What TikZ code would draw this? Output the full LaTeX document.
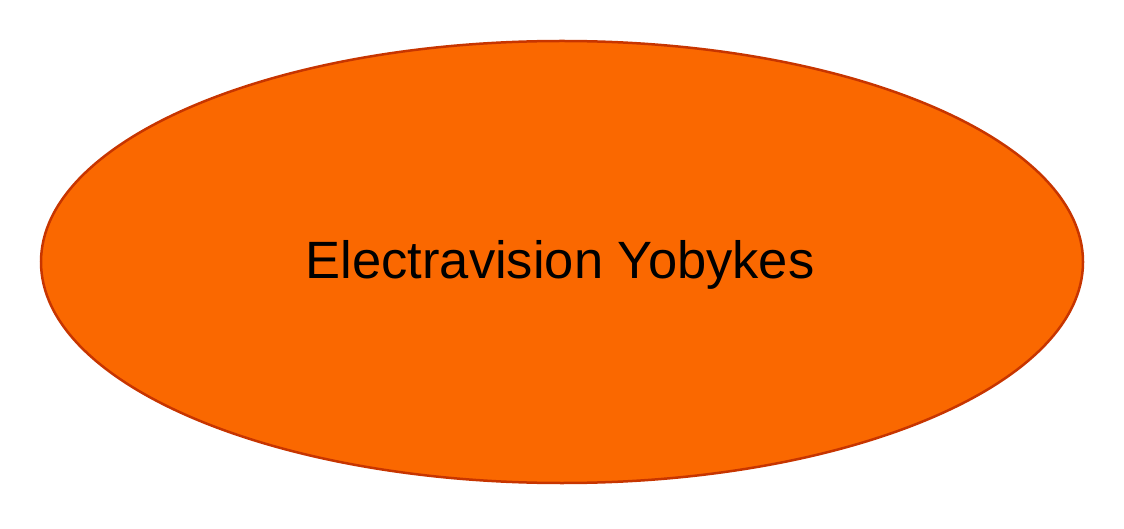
\documentclass[tikz,border=0pt]{standalone}
\usepackage{fontspec}
\setmainfont{Liberation Sans}
\usetikzlibrary{shapes.geometric}
\definecolor{fillor}{HTML}{FA6800}
\definecolor{lineor}{HTML}{C73500}
\tikzset{blob/.style={ellipse, draw=lineor, fill=fillor, line width=2.5pt, minimum width=1042pt, minimum height=442pt, inner sep=0pt, font=\fontsize{52.5}{60}\selectfont}}
\begin{document}
\begin{tikzpicture}[x=1pt,y=1pt]
\useasboundingbox (0,0) rectangle (1124,528);
\node[blob] (e) at (562,266) {};
\node[font=\fontsize{52.5}{60}\selectfont, anchor=base, inner sep=0pt] (t) at (560,249) {Electravision Yobykes};
\end{tikzpicture}
\end{document}
